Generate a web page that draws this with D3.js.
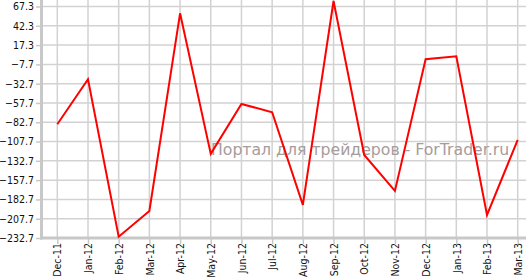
<!DOCTYPE html>
<html>
<head>
<meta charset="utf-8">
<script src="https://cdn.jsdelivr.net/npm/d3@7"></script>
<style>
  html, body { margin: 0; padding: 0; background: #fff; }
  svg { display: block; }
</style>
</head>
<body>
<svg id="chart"></svg>
<script>
const months = ["Dec-11","Jan-12","Feb-12","Mar-12","Apr-12","May-12","Jun-12","Jul-12",
                "Aug-12","Sep-12","Oct-12","Nov-12","Dec-12","Jan-13","Feb-13","Mar-13"];
const values = [-85.3, -27.0, -231.0, -197.6, 58.5, -123.7, -59.0, -69.7,
                -189.8, 74.4, -125.1, -171.7, -1.1, 2.8, -202.8, -105.6];
const yTicks = [67.3, 42.3, 17.3, -7.7, -32.7, -57.7, -82.7, -107.7,
                -132.7, -157.7, -182.7, -207.7, -232.7];
const watermark = "Портал для трейдеров - ForTrader.ru";

const width = 526, height = 277;
const plotLeft = 42, plotBottom = 238, plotTop = 6.5;
const font = "DejaVu Sans, Verdana, sans-serif";
const tickFont = "DejaVu Sans Condensed, Liberation Sans, sans-serif";

const svg = d3.select("#chart")
	.attr("width", width)
	.attr("height", height)
	.style("font-family", font);

let x = d3.scalePoint(months, [57.3, 517.7]);
let y = d3.scaleLinear([-232.7, 67.3], [plotBottom, plotTop]);

// grid
let grid = svg.append("g").attr("stroke", "#d2d2d2").attr("stroke-width", 1.5);
grid.selectAll(".h").data(yTicks).join("line")
	.attr("x1", plotLeft).attr("x2", width)
	.attr("y1", d => y(d)).attr("y2", d => y(d));
grid.selectAll(".v").data(months).join("line")
	.attr("x1", d => x(d)).attr("x2", d => x(d))
	.attr("y1", 0).attr("y2", plotBottom);

// y axis
let yAxis = d3.axisLeft(y).tickValues(yTicks).tickFormat(d3.format(".1f")).tickSize(5).tickPadding(2);
let yg = svg.append("g").attr("transform", `translate(${plotLeft - 1},0)`).call(yAxis);
yg.select(".domain").remove();
yg.selectAll("line").attr("stroke", "#c8c8c8").attr("stroke-width", 1.5);
yg.selectAll("text").attr("fill", "#111").style("font-size", "10.5px").style("font-family", tickFont);

// x axis
let xAxis = d3.axisBottom(x).tickSize(5).tickPadding(2);
let xg = svg.append("g").attr("transform", `translate(0,${plotBottom + 1})`).call(xAxis);
xg.select(".domain").remove();
xg.selectAll("line").attr("stroke", "#c8c8c8").attr("stroke-width", 1.5);
xg.selectAll("text")
	.attr("fill", "#111")
	.style("font-size", "10.5px")
	.style("font-family", tickFont)
	.attr("text-anchor", "end")
	.attr("transform", "rotate(-90)")
	.attr("x", -4).attr("y", 0).attr("dy", "0.35em");

// axis lines
svg.append("line").attr("x1", plotLeft - 0.5).attr("x2", plotLeft - 0.5).attr("y1", 0).attr("y2", plotBottom + 1.5)
	.attr("stroke", "#c8c8c8").attr("stroke-width", 3);
svg.append("line").attr("x1", plotLeft - 2).attr("x2", width).attr("y1", plotBottom).attr("y2", plotBottom)
	.attr("stroke", "#c8c8c8").attr("stroke-width", 3);

// watermark
svg.append("text")
	.attr("x", 211).attr("y", 155)
	.attr("fill", "#a59c9c")
	.style("font-size", "15.7px")
	.text(watermark);

// series
svg.append("path")
	.datum(values)
	.attr("fill", "none")
	.attr("stroke", "#ff0000")
	.attr("stroke-width", 2)
	.attr("stroke-linejoin", "miter")
	.attr("d", d3.line((d, i) => x(months[i]), d => y(d)));
</script>
</body>
</html>
